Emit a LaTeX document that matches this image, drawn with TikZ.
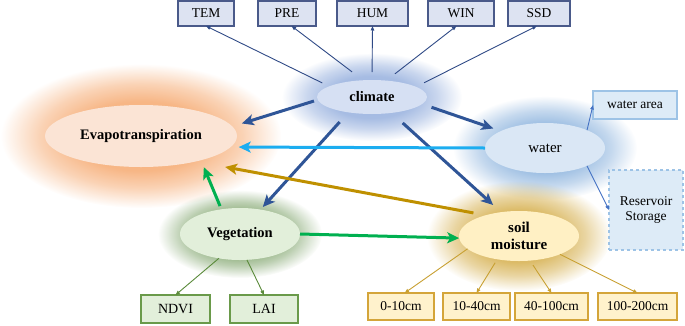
\documentclass[tikz,border=0pt]{standalone}
\usepackage{fontspec}
\setmainfont{Liberation Serif}
\usetikzlibrary{shapes.geometric,arrows.meta,fadings}
\definecolor{climfill}{HTML}{D6E0F3}
\definecolor{climglow}{HTML}{9DB5E0}
\definecolor{evfill}{HTML}{FBE4D5}
\definecolor{evglow}{HTML}{F6AE78}
\definecolor{wfill}{HTML}{DAE7F5}
\definecolor{wglow}{HTML}{95B9E0}
\definecolor{soilfill}{HTML}{FFF0C4}
\definecolor{soilglow}{HTML}{D8B458}
\definecolor{vegfill}{HTML}{E2EFDA}
\definecolor{vegglow}{HTML}{85A872}
\definecolor{topfill}{HTML}{DDE3F2}
\definecolor{topline}{HTML}{4A5A8A}
\definecolor{navyline}{HTML}{2F4A86}
\definecolor{climblue}{HTML}{2F5597}
\definecolor{lblue}{HTML}{1CADF0}
\definecolor{goldarr}{HTML}{BF9000}
\definecolor{greenarr}{HTML}{00B050}
\definecolor{vegline}{HTML}{5A8A3A}
\definecolor{vegbox}{HTML}{6A9A4A}
\definecolor{soilline}{HTML}{C8A032}
\definecolor{soilbox}{HTML}{D4A53A}
\definecolor{soilboxfill}{HTML}{FFF2CC}
\definecolor{waterline}{HTML}{4472C4}
\definecolor{waterboxfill}{HTML}{DDEBF7}
\definecolor{waterbox}{HTML}{9DC3E6}
\pgfdeclareradialshading{glowshade}{\pgfpointorigin}{color(0bp)=(pgftransparent!0); color(12bp)=(pgftransparent!10); color(18bp)=(pgftransparent!45); color(25bp)=(pgftransparent!100); color(50bp)=(pgftransparent!100)}
\pgfdeclarefading{glowfade}{\pgfuseshading{glowshade}}
\tikzset{
  ell/.style={ellipse, inner sep=0pt, outer sep=0pt, font=\fontsize{14.5}{16}\selectfont\bfseries},
  tbox/.style={rectangle, draw=topline, fill=topfill, line width=1.1pt, inner sep=0pt, outer sep=0pt, minimum height=25pt, font=\fontsize{13.5}{15}\selectfont},
  vbox/.style={rectangle, draw=vegbox, fill=vegfill, line width=1.1pt, inner sep=0pt, outer sep=0pt, minimum height=28pt, font=\fontsize{14}{15}\selectfont},
  sbox/.style={rectangle, draw=soilbox, fill=soilboxfill, line width=1.1pt, inner sep=0pt, outer sep=0pt, minimum height=27pt, font=\fontsize{13.5}{15}\selectfont},
  wbox/.style={rectangle, draw=waterbox, fill=waterboxfill, line width=1.1pt, inner sep=0pt, outer sep=0pt, font=\fontsize{13.5}{15}\selectfont},
  bigarrow/.style={line width=3pt, -{Stealth[length=12pt,width=11pt,inset=3pt]}},
  thinarrow/.style={line width=0.9pt, -{Triangle[length=4.5pt,width=3.5pt]}},
  glow/.style={path fading=glowfade}
}
\begin{document}
\begin{tikzpicture}[x=1pt,y=-1pt]
\useasboundingbox (0,0) rectangle (685,325);
% glows
\fill[evglow, glow] (141,136) ellipse [x radius=140, y radius=72];
\fill[climglow, glow] (372,97) ellipse [x radius=90, y radius=44];
\fill[wglow, glow] (545,148) ellipse [x radius=92, y radius=52];
\fill[soilglow, glow] (519,236) ellipse [x radius=92, y radius=55];
\fill[vegglow, glow] (240,234) ellipse [x radius=82, y radius=44];
% ellipse nodes
\node[ell, fill=climfill, minimum width=110pt, minimum height=34pt] (climate) at (372,97) {climate};
\node[ell, fill=evfill, minimum width=192pt, minimum height=62pt] (evapo) at (141,136) {Evapotranspiration};
\node[ell, fill=wfill, minimum width=120pt, minimum height=50pt, font=\fontsize{15}{16}\selectfont] (water) at (545,148) {water};
\node[ell, fill=soilfill, minimum width=120pt, minimum height=50pt, align=center, font=\fontsize{15}{17}\selectfont\bfseries] (soil) at (519,236) {soil\\moisture};
\node[ell, fill=vegfill, minimum width=120pt, minimum height=52pt] (veg) at (240,234) {Vegetation};
% top boxes
\node[tbox, minimum width=56pt] (TEM) at (206,13.5) {TEM};
\node[tbox, minimum width=58pt] (PRE) at (287,13.5) {PRE};
\node[tbox, minimum width=71pt] (HUM) at (372.5,13.5) {HUM};
\node[tbox, minimum width=66pt] (WIN) at (461,13.5) {WIN};
\node[tbox, minimum width=62pt] (SSD) at (539,13.5) {SSD};
% water boxes
\node[wbox, minimum width=84pt, minimum height=28pt] (waterarea) at (635,105) {water area};
\node[wbox, dashed, minimum width=74pt, minimum height=80pt, align=center] (reservoir) at (646,210) {Reservoir\\Storage};
% vegetation boxes
\node[vbox, minimum width=69pt] (NDVI) at (175.5,309) {NDVI};
\node[vbox, minimum width=68pt] (LAI) at (264,309) {LAI};
% soil boxes
\node[sbox, minimum width=66pt] (s0) at (401,306.5) {0-10cm};
\node[sbox, minimum width=67pt] (s1) at (476.5,306.5) {10-40cm};
\node[sbox, minimum width=73pt] (s2) at (551.5,306.5) {40-100cm};
\node[sbox, minimum width=79pt] (s3) at (637.5,306.5) {100-200cm};
% thin arrows from climate
\draw[thinarrow, navyline, shorten <=7.7pt] (climate.166) -- (TEM.south);
\draw[thinarrow, navyline, shorten <=13.8pt] (climate.118) -- (PRE.-70);
\draw[thinarrow, navyline, shorten <=8pt] (climate.90) -- (HUM.south);
\draw[thinarrow, navyline, shorten <=11pt] (climate.49) -- (WIN.-110);
\draw[thinarrow, navyline, shorten <=9pt] (climate.13.5) -- (SSD.-100);
% thin arrows from water
\draw[thinarrow, waterline] (water.23) -- (waterarea.west);
\draw[thinarrow, waterline] (water.-23) -- (reservoir.west);
% thin arrows from vegetation
\draw[thinarrow, vegline] (veg.229) -- (NDVI.north);
\draw[thinarrow, vegline] (veg.-75) -- (LAI.north);
% thin arrows from soil
\draw[thinarrow, soilline] (soil.194) -- (s0.75);
\draw[thinarrow, soilline, shorten <=4pt] (soil.227) -- (s1.north);
\draw[thinarrow, soilline, shorten <=5.4pt] (soil.-66) -- (s2.north);
\draw[thinarrow, soilline] (soil.-24) -- (s3.north);
% thick arrows
\draw[bigarrow, climblue, shorten <=4pt, shorten >=10pt] (climate.183) -- (evapo.6);
\draw[bigarrow, climblue, shorten <=10pt, shorten >=8pt] (climate.-8.5) -- (water.159);
\draw[bigarrow, climblue, shorten <=13pt, shorten >=3.5pt] (climate.213) -- (veg.50);
\draw[bigarrow, climblue, shorten <=15pt, shorten >=10.7pt] (climate.-39) -- (soil.127);
\draw[bigarrow, lblue, shorten >=8pt] (water.180) -- (evapo.-7);
\draw[bigarrow, goldarr, shorten <=12.5pt, shorten >=30pt] (soil.148) -- (evapo.-25);
\draw[bigarrow, greenarr, shorten <=3.5pt, shorten >=7.5pt] (veg.127) -- (evapo.-22);
\draw[bigarrow, greenarr] (veg.0) -- (soil.182);
\end{tikzpicture}
\end{document}
